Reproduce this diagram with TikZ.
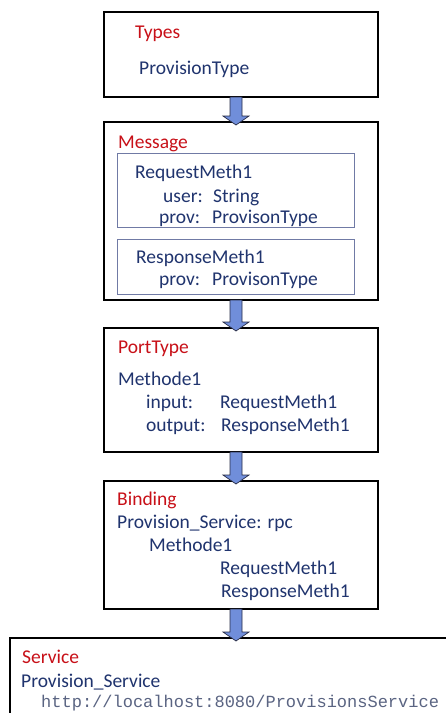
\documentclass[tikz,border=0pt]{standalone}
\usepackage{fontspec}
\setmainfont{Carlito}
\newfontfamily\urlfont{Liberation Mono}
\usetikzlibrary{calc}
\definecolor{headred}{RGB}{200,16,24}
\definecolor{textblue}{RGB}{32,52,110}
\definecolor{framegray}{RGB}{112,122,165}
\definecolor{arrowblue}{RGB}{112,142,218}
\definecolor{arrowedge}{RGB}{40,45,70}
\definecolor{urlgray}{RGB}{90,100,130}

% block arrow from the bottom of one section to the top of the next
\newcommand\flowarrow[2]{%
  \draw[blockarrow] let \p1=(#1.south), \p2=(#2.north) in
    (\x1-11pt,\y1) -- (\x1+1pt,\y1) -- (\x1+1pt,\y2+6pt) -- (\x1+8pt,\y2+6pt)
    -- (\x1-5pt,\y2-3pt) -- (\x1-18pt,\y2+6pt) -- (\x1-11pt,\y2+6pt) -- cycle;}

\begin{document}
\begin{tikzpicture}[x=1pt,y=-1pt,
  section/.style={draw=black, line width=1.2pt, fill=white, inner sep=0pt,
    outer sep=0pt, anchor=north west},
  part/.style={draw=framegray, line width=0.9pt, inner sep=0pt, outer sep=0pt,
    anchor=north west},
  title/.style={anchor=base west, inner sep=0pt, text=headred,
    font=\fontsize{19.5}{23}\selectfont},
  entry/.style={anchor=base west, inner sep=0pt, text=textblue,
    font=\fontsize{19.5}{23}\selectfont},
  url/.style={anchor=base west, inner sep=0pt, text=urlgray,
    font=\urlfont\fontsize{17}{20}\selectfont},
  blockarrow/.style={fill=arrowblue, draw=arrowedge, line width=0.7pt,
    line join=miter}]
\useasboundingbox (0,0) rectangle (445,713);

% sections
\node[section, minimum width=274pt, minimum height=85pt]  (types)   at (104,12)  {};
\node[section, minimum width=274pt, minimum height=178pt] (message) at (104,122) {};
\node[part,    minimum width=237pt, minimum height=74pt]  (req)     at (117,153) {};
\node[part,    minimum width=237pt, minimum height=55pt]  (resp)    at (117,239) {};
\node[section, minimum width=274pt, minimum height=124pt] (port)    at (104,328) {};
\node[section, minimum width=274pt, minimum height=128pt] (binding) at (104,481) {};
\node[section, minimum width=460pt, minimum height=100pt] (service) at (10,638)  {};

% arrows between sections
\flowarrow{types}{message}
\flowarrow{message}{port}
\flowarrow{port}{binding}
\flowarrow{binding}{service}

% Types
\node[title] (t1) at (135,38) {Types};
\node[entry] (t2) at (139,74) {ProvisionType};

% Message
\node[title] (m0) at (118,148) {Message};
\node[entry] (m1) at (135,178) {RequestMeth1};
\node[entry] (m2) at (163,202) {user:};
\node[entry] (m3) at (213,202) {String};
\node[entry] (m4) at (159,223) {prov:};
\node[entry] (m5) at (212,223) {ProvisonType};
\node[entry] (m6) at (136,263) {ResponseMeth1};
\node[entry] (m7) at (159,285) {prov:};
\node[entry] (m8) at (212,285) {ProvisonType};

% PortType
\node[title] (p0) at (118,353) {PortType};
\node[entry] (p1) at (118,385) {Methode1};
\node[entry] (p2) at (146,408) {input:};
\node[entry] (p3) at (220,408) {RequestMeth1};
\node[entry] (p4) at (146,431) {output:};
\node[entry] (p5) at (221,431) {ResponseMeth1};

% Binding
\node[title] (b0) at (117,505) {Binding};
\node[entry] (b1) at (117,528) {Provision\_Service: rpc};
\node[entry] (b2) at (149,551) {Methode1};
\node[entry] (b3) at (220,574) {RequestMeth1};
\node[entry] (b4) at (221,597) {ResponseMeth1};

% Service
\node[title] (s0) at (22,663) {Service};
\node[entry] (s1) at (21,687) {Provision\_Service};
\node[url]   (s2) at (41,707) {http://localhost:8080/ProvisionsService};
\end{tikzpicture}
\end{document}
